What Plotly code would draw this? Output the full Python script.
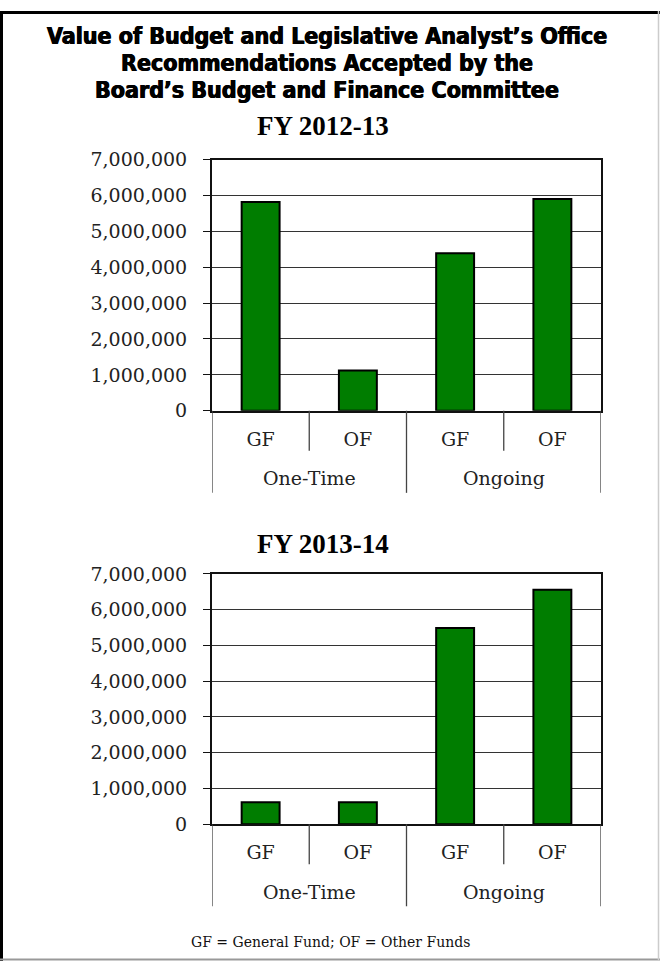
import plotly.graph_objects as go

# ---- data ----
groups = ["One-Time", "One-Time", "Ongoing", "Ongoing"]
funds = ["GF", "OF", "GF", "OF"]
fy2012_values = [5820000, 1120000, 4390000, 5900000]
fy2013_values = [610000, 610000, 5490000, 6560000]
panel_titles = ["FY 2012-13", "FY 2013-14"]
title_lines = ["Value of Budget and Legislative Analyst’s Office",
               "Recommendations Accepted by the",
               "Board’s Budget and Finance Committee"]
footnote = "GF = General Fund; OF = Other Funds"

W, H = 660, 972
def px_x(v): return v / W
def px_y(v): return 1 - v / H

BAR_GREEN = "#007d00"
SERIF = "DejaVu Serif, Liberation Serif, serif"
TITLE_FONT = "DejaVu Sans Condensed, DejaVu Sans, sans-serif"

positions = list(range(len(funds)))
group_names = []
for g in groups:
    if g not in group_names:
        group_names.append(g)
group_centers = [sum(i for i, g in enumerate(groups) if g == n) / groups.count(n) for n in group_names]
outer_bounds = [-0.5] + [i + 0.5 for i in range(len(groups) - 1) if groups[i] != groups[i + 1]] + [len(groups) - 0.5]
inner_bounds = [i + 0.5 for i in range(len(groups) - 1) if groups[i] == groups[i + 1]]

fig = go.Figure()

panels = [
    dict(values=fy2012_values, top=152, bottom=409, title_y=117.5),
    dict(values=fy2013_values, top=576, bottom=832, title_y=545),
]
left, right = 212, 601

for i, p in enumerate(panels):
    suffix = "" if i == 0 else str(i + 1)
    fig.add_trace(go.Bar(
        x=positions, y=p["values"],
        xaxis="x" + suffix, yaxis="y" + suffix,
        marker=dict(color=BAR_GREEN, line=dict(color="black", width=2)),
        width=0.39, showlegend=False, hoverinfo="y",
    ))
    xaxis_cfg = dict(
        domain=[px_x(left), px_x(right)],
        anchor="y" + suffix,
        range=[-0.5, len(funds) - 0.5],
        tickmode="array", tickvals=positions, ticktext=funds,
        showline=True, linecolor="#111", linewidth=2, mirror=True,
        showgrid=False, zeroline=False,
        ticks="", ticklabelstandoff=10,
        tickfont=dict(family=SERIF, size=19, color="#222"),
        fixedrange=True,
    )
    yaxis_cfg = dict(
        domain=[px_y(p["bottom"]), px_y(p["top"])],
        anchor="x" + suffix,
        range=[0, 7000000], dtick=1000000, tickformat=",d",
        showline=True, linecolor="#111", linewidth=2, mirror=True,
        showgrid=True, gridcolor="#333", gridwidth=1.3,
        zeroline=False,
        ticks="outside", ticklen=7, tickcolor="#111", tickwidth=1.3,
        ticklabelstandoff=12,
        tickfont=dict(family=SERIF, size=19, color="#222"),
        fixedrange=True,
    )
    fig.update_layout(**{"xaxis" + suffix: xaxis_cfg, "yaxis" + suffix: yaxis_cfg})

    fig.add_annotation(
        text="<b>" + panel_titles[i] + "</b>", xref="paper", yref="paper",
        x=px_x(323), y=px_y(p["title_y"]), xanchor="center", yanchor="middle",
        showarrow=False, font=dict(family="Liberation Serif, Times New Roman, serif", size=27, color="black"),
    )
    for name, c in zip(group_names, group_centers):
        fig.add_annotation(
            text=name, xref="x" + suffix, yref="paper",
            x=c, y=px_y(p["bottom"] + 69), xanchor="center", yanchor="middle",
            showarrow=False, font=dict(family=SERIF, size=19, color="#222"),
        )
    for b in outer_bounds:
        fig.add_shape(type="line", xref="x" + suffix, yref="paper",
                      x0=b, x1=b, y0=px_y(p["bottom"]), y1=px_y(p["bottom"] + 84),
                      line=dict(color="#444", width=1.3))
    for b in inner_bounds:
        fig.add_shape(type="line", xref="x" + suffix, yref="paper",
                      x0=b, x1=b, y0=px_y(p["bottom"]), y1=px_y(p["bottom"] + 41),
                      line=dict(color="#444", width=1.3))

for line, yc in zip(title_lines, [25.5, 53, 80.5]):
    fig.add_annotation(
        text="<b>" + line + "</b>", xref="paper", yref="paper",
        x=px_x(327), y=px_y(yc), xanchor="center", yanchor="middle",
        showarrow=False,
        font=dict(family=TITLE_FONT, size=23, color="black",
                  shadow="0.5px 0 0 black, -0.5px 0 0 black"),
    )

fig.add_annotation(
    text=footnote, xref="paper", yref="paper",
    x=px_x(331), y=px_y(953), xanchor="center", yanchor="middle",
    showarrow=False, font=dict(family=SERIF, size=14, color="#111"),
)

# outer frame: dark left/top, light right/bottom
fig.add_shape(type="line", xref="paper", yref="paper", x0=px_x(1.5), x1=px_x(1.5), y0=px_y(972), y1=px_y(0),
              line=dict(color="black", width=3))
fig.add_shape(type="line", xref="paper", yref="paper", x0=px_x(0), x1=px_x(660), y0=px_y(1.5), y1=px_y(1.5),
              line=dict(color="black", width=3))
fig.add_shape(type="line", xref="paper", yref="paper", x0=px_x(0), x1=px_x(660), y0=px_y(970.5), y1=px_y(970.5),
              line=dict(color="#999", width=2))
fig.add_shape(type="line", xref="paper", yref="paper", x0=px_x(658.5), x1=px_x(658.5), y0=px_y(972), y1=px_y(0),
              line=dict(color="#ccc", width=1.5))

fig.update_layout(
    width=W, height=H,
    margin=dict(l=0, r=0, t=0, b=0),
    paper_bgcolor="white", plot_bgcolor="white",
)

post = ("document.body.style.margin='0';document.body.style.padding='0';"
        "document.documentElement.style.overflow='hidden';"
        "var gd=document.getElementById('{plot_id}');"
        "gd.style.position='absolute';gd.style.left='0px';gd.style.top='0px';")

fig.write_html("out.html", config={"displayModeBar": False}, post_script=post)
